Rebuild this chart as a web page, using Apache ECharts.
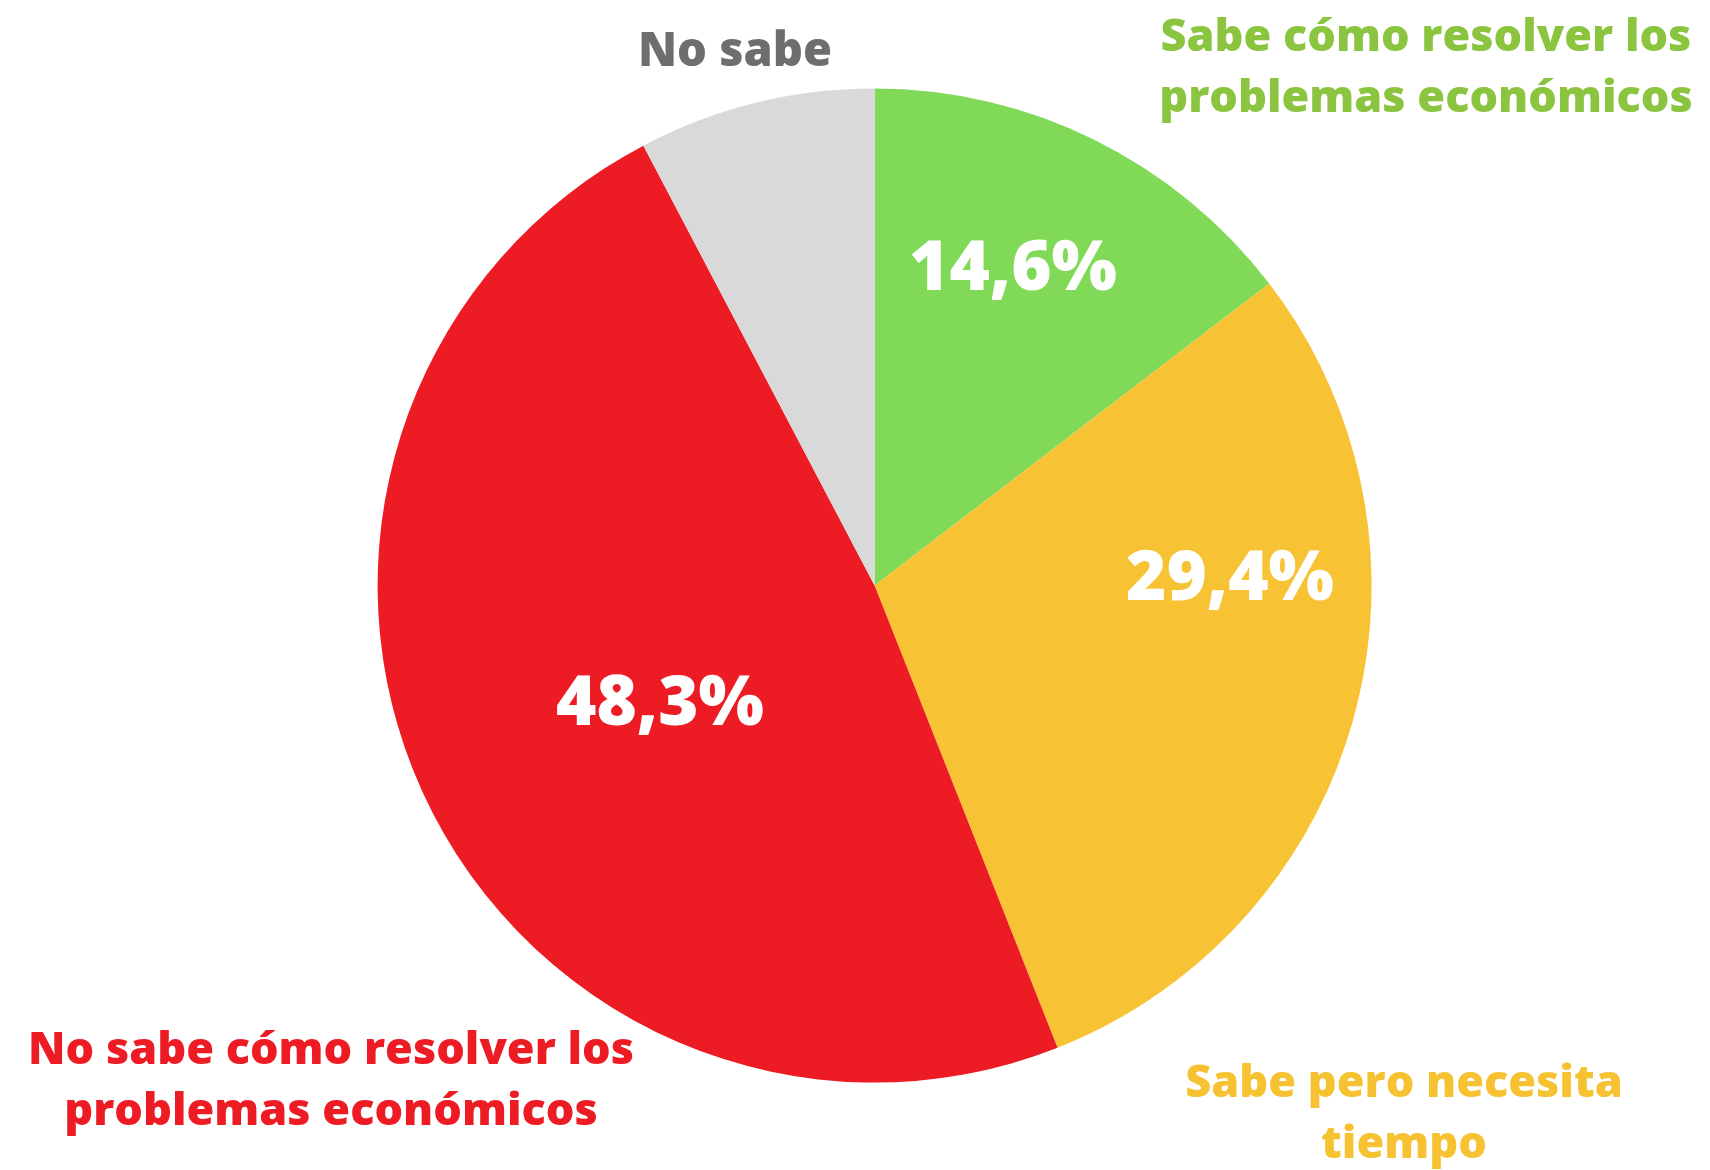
<!DOCTYPE html>
<html>
<head>
<meta charset="utf-8">
<script src="https://cdn.jsdelivr.net/npm/echarts@6/dist/echarts.min.js"></script>
<style>html,body{margin:0;padding:0;background:#fff}#c{width:1710px;height:1170px}</style>
</head>
<body>
<div id="c"></div>
<script>
var categories = ['Sabe cómo resolver los\nproblemas económicos', 'Sabe pero necesita\ntiempo', 'No sabe cómo resolver los\nproblemas económicos', 'No sabe'];
var values = [14.6, 29.4, 48.3, 7.7];
var valueLabels = ['14,6%', '29,4%', '48,3%', ''];
var sliceColors = ['#81D958', '#F7C234', '#ED1C24', '#D9D9D9'];
var nameColors = ['#8BC53F', '#F6C232', '#ED1C24', '#6D6E70'];

var FONT = '"Open Sans", sans-serif';
var valuePos = [[1013, 270], [1230, 580], [660, 705], [0, 0]];
var namePos = [[1426, 69], [1404, 1115], [331, 1082], [735, 53]];
var nameSizes = [45, 45, 45, 47];

var chart = echarts.init(document.getElementById('c'));
var center = [874.6, 585.6];
var radius = 497;

chart.setOption({
  animation: false,
  series: [
    {
      type: 'pie',
      center: center,
      radius: radius,
      startAngle: 90,
      clockwise: true,
      data: categories.map(function (n, i) {
        return { name: n, value: values[i], itemStyle: { color: sliceColors[i] } };
      }),
      label: {
        show: true,
        position: 'inside',
        color: '#fff',
        fontFamily: FONT,
        fontWeight: 800,
        fontSize: 69,
        formatter: function (p) { return valueLabels[p.dataIndex]; }
      },
      labelLine: { show: false },
      labelLayout: function (p) {
        var pos = valuePos[p.dataIndex];
        return { x: pos[0], y: pos[1], align: 'center', verticalAlign: 'middle' };
      },
      emphasis: { disabled: true }
    },
    {
      type: 'pie',
      center: center,
      radius: radius,
      startAngle: 90,
      clockwise: true,
      silent: true,
      z: 3,
      data: categories.map(function (n, i) {
        return { name: n, value: values[i], itemStyle: { color: 'rgba(0,0,0,0)' },
          label: { color: nameColors[i], fontSize: nameSizes[i] } };
      }),
      label: {
        show: true,
        position: 'inside',
        fontFamily: FONT,
        fontWeight: 800,
        fontSize: 45,
        lineHeight: 61,
        align: 'center',
        formatter: function (p) { return p.name; }
      },
      labelLine: { show: false },
      labelLayout: function (p) {
        var pos = namePos[p.dataIndex];
        return { x: pos[0], y: pos[1], align: 'center', verticalAlign: 'middle' };
      },
      emphasis: { disabled: true }
    }
  ]
});
</script>
</body>
</html>
